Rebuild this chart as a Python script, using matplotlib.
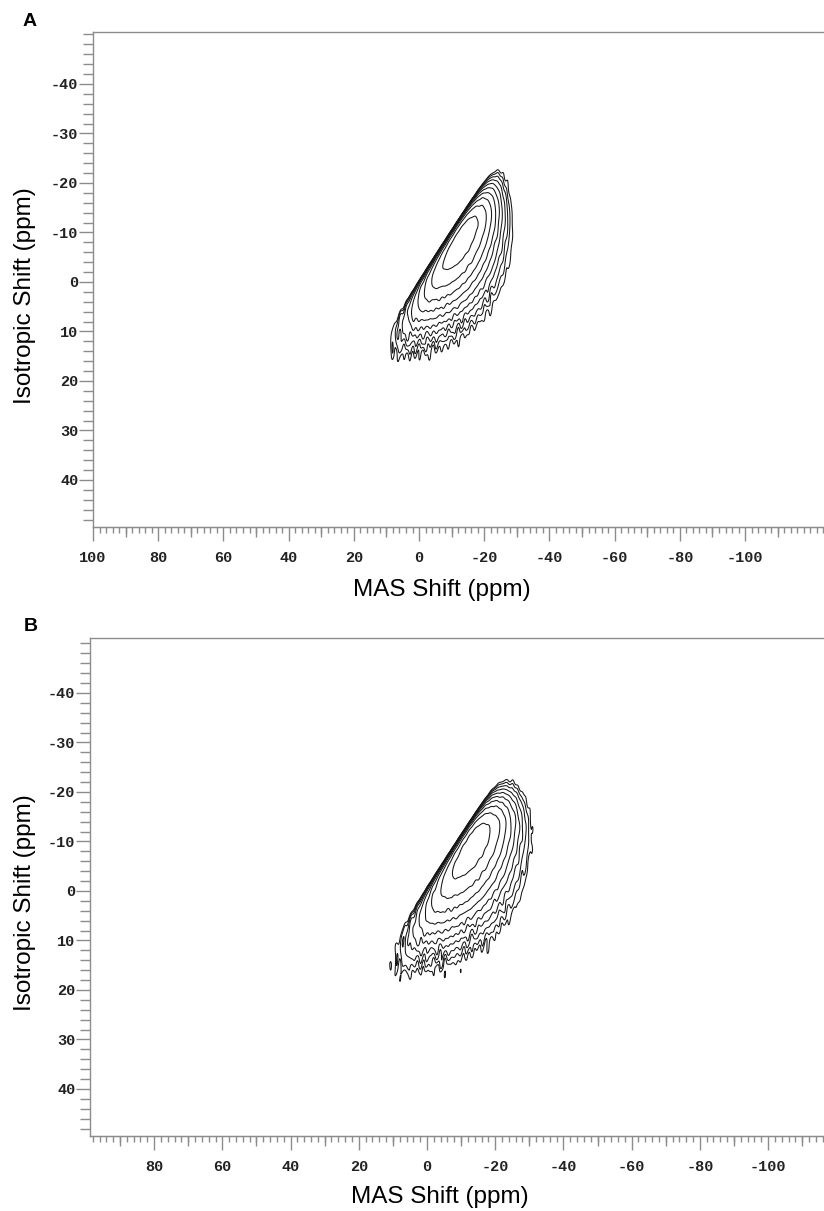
import numpy as np
import matplotlib
matplotlib.use("Agg")
import matplotlib.pyplot as plt
from matplotlib.ticker import FixedLocator, MultipleLocator

# ---------------- chart text / axes data ----------------
panel_letters = ["A", "B"]
x_label = "MAS Shift (ppm)"
y_label = "Isotropic Shift (ppm)"
xticks_A = [100, 80, 60, 40, 20, 0, -20, -40, -60, -80, -100]
xticks_B = [80, 60, 40, 20, 0, -20, -40, -60, -80, -100]
yticks = [-40, -30, -20, -10, 0, 10, 20, 30, 40]
xlim_A = [100, -124.2]
ylim_A = [49.5, -50.5]
xlim_B = [98.8, -116.4]
ylim_B = [49.5, -51.1]

# ---------------- spectrum model parameters -------------
# sharp high-frequency edge: x_edge = edge_slope * y + edge_shift
edge_slope = [0.99, 0.95]
edge_shift = [0.6, 1.05]
edge_rise = [1.0, 1.0]
# intensity profile along the ridge (iso shift)
ridge_centre = [-8.4, -9.1]
sigma_up = [7.1, 6.6]
sigma_down = [10.4, 11.4]
gamma_up = [1.3, 1.3]
# MAS profile: peak offset = peak_frac * width, width = rate * (y - start)
width_rate = [0.295, 0.283]
width_start = [-32.2, -36.6]
peak_frac = [0.7, 0.7]
left_width = [5.0, 5.0]
contour_levels = [0.08, 0.104, 0.135, 0.176, 0.229, 0.298, 0.387, 0.503, 0.654, 0.85]

# pseudo-noise texture (typed constants): wave numbers x, y and phases
noise_kx = [2.1, 2.9, 3.7, 1.7, 4.3, 2.5, 3.3, 1.3, 3.9, 2.7]
noise_ky = [0.5, -0.8, 0.35, 1.1, -0.6, 0.9, -0.3, 0.7, -1.0, 0.2]
noise_ph_A = [0.3, 1.9, 4.1, 2.7, 5.5, 0.9, 3.6, 1.2, 4.8, 2.2]
noise_ph_B = [2.3, 0.4, 1.7, 5.1, 3.0, 4.4, 0.8, 2.9, 1.5, 5.9]
noise_amp = [0.013, 0.013]
noise_floor = [0.35, 0.45]      # relative noise weight in the upper part
noise_ramp = [-2.0, 15.0]       # iso-shift range over which it reaches full weight


def spectrum(xg, yg, i, phases):
    X, Y = np.meshgrid(xg, yg)
    t = (edge_slope[i] * Y + edge_shift[i]) - X
    R = np.where(t > 0, 1.0 - np.exp(-np.clip(t, 0, None) / edge_rise[i]), 0.0)
    dy = Y - ridge_centre[i]
    q_up = (0.5 * (dy / sigma_up[i]) ** 2) ** gamma_up[i]
    q_dn = 0.5 * (dy / sigma_down[i]) ** 2
    P = np.exp(-np.where(dy < 0, q_up, q_dn))
    s = np.clip(width_rate[i] * (Y - width_start[i]), 0.3, None)
    t0 = peak_frac[i] * s
    d = t - t0
    G = np.where(d > 0, np.exp(-0.5 * (d / s) ** 2),
                 np.exp(-0.5 * (d / left_width[i]) ** 2))
    Z = P * G * R
    noise = np.zeros_like(X)
    for kx, ky, ph in zip(noise_kx, noise_ky, phases):
        noise += np.sin(kx * X + ky * Y + ph)
    noise /= np.sqrt(len(noise_kx) / 2.0)
    env = np.clip(Z / 0.05, 0, 1)
    y0, y1 = noise_ramp
    wy = noise_floor[i] + (1 - noise_floor[i]) * np.clip((Y - y0) / (y1 - y0), 0, 1)
    Z = Z + noise_amp[i] * noise * env * wy
    return Z


xg = np.arange(-50, 30, 0.1)
yg = np.arange(-35, 30, 0.1)

fig = plt.figure(figsize=(8.24, 12.11), dpi=100)
W, H = 824.0, 1211.0

axes_px = [(93, 32, 824, 527), (90, 638, 824, 1136)]
xlims = [xlim_A, xlim_B]
ylims = [ylim_A, ylim_B]
xtick_sets = [xticks_A, xticks_B]
phases = [noise_ph_A, noise_ph_B]
letter_pos = [(30, 21.5), (30.5, 626.5)]
xlabel_y = [-0.105, -0.100]
ylabel_x = [-0.078, -0.0736]

spine_col = "#8c8c8c"
tick_font = dict(family="Liberation Mono", weight="bold", size=11)

for i in range(2):
    l, t_, r, b = axes_px[i]
    ax = fig.add_axes([l / W, 1 - b / H, (r - l) / W, (b - t_) / H])
    Z = spectrum(xg, yg, i, phases[i])
    ax.contour(xg, yg, Z, levels=contour_levels, colors="#151515", linewidths=0.75)
    ax.set_xlim(xlims[i])
    ax.set_ylim(ylims[i])

    for side in ["left", "top", "bottom"]:
        ax.spines[side].set_color(spine_col)
        ax.spines[side].set_linewidth(1.0)
    ax.spines["right"].set_visible(False)

    xt = xtick_sets[i]
    ax.xaxis.set_major_locator(FixedLocator(xt))
    ax.set_xticklabels([str(v) for v in xt], fontdict=tick_font, color="#222222")
    ax.xaxis.set_minor_locator(MultipleLocator(2))
    ax.yaxis.set_major_locator(FixedLocator(yticks))
    ax.set_yticklabels([str(v) for v in yticks], fontdict=tick_font, color="#222222")
    ax.yaxis.set_minor_locator(MultipleLocator(2))
    ax.tick_params(axis="x", which="major", direction="out", length=10, width=1,
                   color=spine_col, pad=7)
    ax.tick_params(axis="x", which="minor", direction="out", length=4, width=1,
                   color=spine_col)
    ax.tick_params(axis="y", which="major", direction="out", length=10, width=1,
                   color=spine_col, pad=0.5)
    ax.tick_params(axis="y", which="minor", direction="out", length=7, width=1,
                   color=spine_col)

    # medium ticks at odd tens
    tens = [v for v in range(-120, 101, 10) if v % 20 != 0]
    sec = ax.secondary_xaxis("bottom")
    sec.set_xticks(tens)
    sec.tick_params(axis="x", which="major", direction="out", length=7, width=1,
                    color=spine_col, labelbottom=False)
    sec.xaxis.set_minor_locator(FixedLocator([]))
    sec.spines["bottom"].set_color(spine_col)

    ax.set_xlabel(x_label, family="Liberation Sans", size=17.5)
    ax.set_ylabel(y_label, family="Liberation Sans", size=17.5)
    ax.xaxis.set_label_coords(0.477, xlabel_y[i])
    ax.yaxis.set_label_coords(ylabel_x[i], 0.468)

    fig.text(letter_pos[i][0] / W, 1 - letter_pos[i][1] / H, panel_letters[i],
             family="Liberation Sans", weight="bold", size=14, ha="center", va="center")

fig.savefig("out.png", dpi=100)
